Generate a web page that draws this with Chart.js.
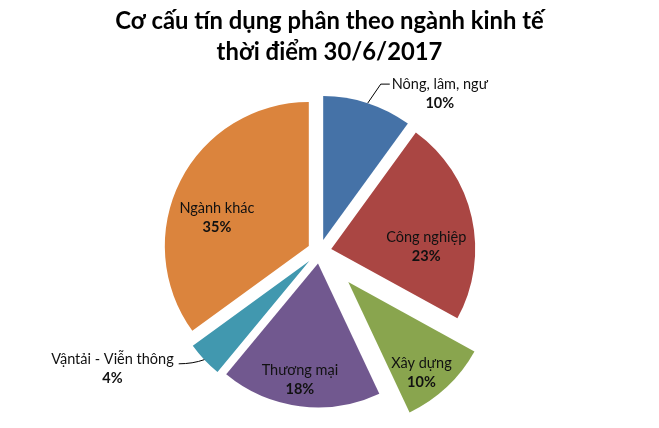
<!DOCTYPE html>
<html><head><meta charset="utf-8">
<script src="https://cdn.jsdelivr.net/npm/chart.js@4.4.0/dist/chart.umd.min.js"></script>
<style>html,body{margin:0;padding:0;background:#fff;} #wrap{width:659px;height:428px;position:relative;}</style>
</head><body><div id="wrap"><canvas id="c"></canvas></div>
<script>
const titleLines = ['Cơ cấu tín dụng phân theo ngành kinh tế', 'thời điểm 30/6/2017'];
const categories = ['Nông, lâm, ngư', 'Công nghiệp', 'Xây dựng', 'Thương mại', 'Vậntải - Viễn thông', 'Ngành khác'];
const shares = [10, 23, 10, 18, 4, 35];

// styles
const colors = ['#4572A7', '#AA4643', '#89A54E', '#71588F', '#4198AF', '#DB843D'];
const explode = [12, 12, 42, 12, 14, 12];
const labelAngleFrac = [1.07, 0.634, 0.62, 0.525, 1.5, 0.42];
const labelRadiusFrac = [1.3, 0.66, 0.81, 0.82, 1.56, 0.667];
const leaderSide = ['left', null, null, null, 'right', null];
const FONT = 'Lato, "Open Sans", sans-serif';

const explodePlugin = {
  id: 'explodeSlices',
  beforeDatasetsDraw(chart) {
    chart.getDatasetMeta(0).data.forEach((arc, i) => {
      if (arc.__wrapped) return;
      const orig = arc.draw;
      arc.draw = function (ctx, area) {
        const mid = (this.startAngle + this.endAngle) / 2;
        ctx.save();
        ctx.translate(Math.cos(mid) * explode[i], Math.sin(mid) * explode[i]);
        orig.call(this, ctx, area);
        ctx.restore();
      };
      arc.__wrapped = true;
    });
  }
};

const titlePlugin = {
  id: 'twoLineTitle',
  afterDraw(chart) {
    const ctx = chart.ctx;
    ctx.save();
    ctx.fillStyle = '#000';
    ctx.font = 'bold 23.8px ' + FONT;
    ctx.textAlign = 'center';
    ctx.textBaseline = 'middle';
    titleLines.forEach((t, k) => ctx.fillText(t, chart.width / 2, 21 + k * 31));
    ctx.restore();
  }
};

const labelPlugin = {
  id: 'sliceLabels',
  afterDatasetsDraw(chart) {
    const ctx = chart.ctx;
    const meta = chart.getDatasetMeta(0);
    ctx.save();
    ctx.textAlign = 'center';
    ctx.textBaseline = 'middle';
    meta.data.forEach((arc, i) => {
      const {x, y, startAngle, endAngle, outerRadius} = arc;
      const mid = (startAngle + endAngle) / 2;
      const ax = x + Math.cos(mid) * explode[i];
      const ay = y + Math.sin(mid) * explode[i];
      const a = startAngle + (endAngle - startAngle) * labelAngleFrac[i];
      const R = outerRadius * labelRadiusFrac[i];
      const lx = ax + Math.cos(a) * R;
      const ly = ay + Math.sin(a) * R;
      const name = categories[i];
      const pct = shares[i] + '%';
      ctx.fillStyle = '#111';
      ctx.font = '14.5px ' + FONT;
      const w = ctx.measureText(name).width;
      ctx.fillText(name, lx, ly - 9.5);
      ctx.font = 'bold 14.5px ' + FONT;
      ctx.fillText(pct, lx, ly + 9.5);
      if (leaderSide[i]) {
        const sx = ax + Math.cos(mid) * outerRadius;
        const sy = ay + Math.sin(mid) * outerRadius;
        ctx.strokeStyle = '#000';
        ctx.lineWidth = 1;
        ctx.beginPath();
        ctx.moveTo(sx, sy);
        if (leaderSide[i] === 'left') {
          const ex = lx - w / 2 - 2, ey = ly - 9.5;
          ctx.lineTo(ex - 9, ey);
          ctx.lineTo(ex, ey);
        } else {
          const ex = lx + w / 2 + 5, ey = ly - 5.5;
          ctx.quadraticCurveTo(ex + 14, ey, ex, ey);
        }
        ctx.stroke();
      }
    });
    ctx.restore();
  }
};

new Chart(document.getElementById('c'), {
  type: 'pie',
  data: {
    labels: categories,
    datasets: [{
      data: shares,
      backgroundColor: colors,
      borderWidth: 0,
      radius: 144
    }]
  },
  options: {
    responsive: true,
    maintainAspectRatio: false,
    animation: false,
    events: [],
    layout: {padding: {top: 75, right: 20, bottom: 0, left: 0}},
    plugins: {
      legend: {display: false},
      tooltip: {enabled: false},
      title: {display: false}
    }
  },
  plugins: [explodePlugin, labelPlugin, titlePlugin]
});
</script>
</body></html>
